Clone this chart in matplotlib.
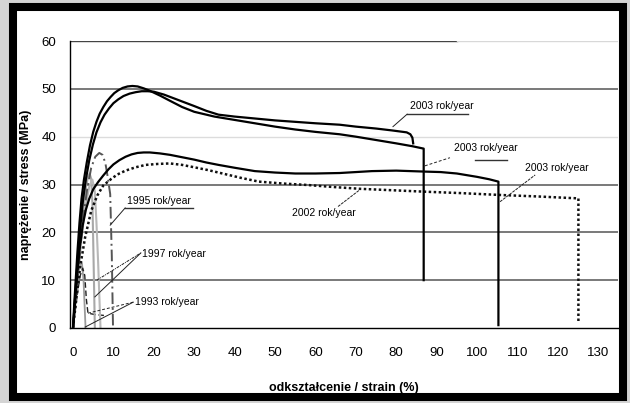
import numpy as np
import matplotlib
matplotlib.use("Agg")
import matplotlib.pyplot as plt
from matplotlib.patches import Rectangle

plt.rcParams['font.family'] = ['Liberation Sans', 'DejaVu Sans']

# stress-strain curves, strain (%) / stress (MPa)
strain_2003a = [0, 0.3, 0.7, 1.1, 1.6, 2.1, 2.7, 3.4, 4.2, 5.0, 5.8, 6.6, 7.5, 8.4, 9.3, 10.2, 11.2, 12.3, 13.5, 14.7,
                16, 17.5, 19, 21.5, 24, 27, 30, 35, 40, 45, 50, 55, 60, 66, 70, 75, 80, 84, 86.8, 86.8]
stress_2003a = [0, 5, 10.5, 16, 22, 27.0, 31.0, 34.6, 38.2, 41.0, 43.1, 44.8, 46.2, 47.4, 48.3, 49.1, 49.7, 50.2, 50.5, 50.6,
                50.5, 50.1, 49.6, 48.6, 47.5, 46.2, 45.2, 44.2, 43.5, 42.8, 42.1, 41.5, 41.0, 40.5, 40.0, 39.3, 38.6, 38.0, 37.5, 10]

strain_2003b = [0, 0.4, 0.8, 1.3, 1.9, 2.5, 3.2, 4.0, 4.9, 5.8, 6.8, 7.8, 8.9, 10, 11.2, 12.5, 14, 15.5, 17, 18.5,
                20, 22.5, 25, 27.5, 30, 33, 36, 40, 45, 50, 55, 60, 66, 70, 75, 79, 82.6, 83.5, 84.0, 84.2]
stress_2003b = [0, 5, 10, 16, 22, 27, 31.2, 35, 38.3, 40.9, 43.0, 44.6, 45.9, 47.0, 47.8, 48.5, 49.0, 49.3, 49.5, 49.5,
                49.4, 48.8, 48.0, 47.2, 46.4, 45.4, 44.6, 44.2, 43.8, 43.4, 43.1, 42.8, 42.5, 42.1, 41.7, 41.3, 40.9, 40.5, 39.8, 38.6]

strain_2003c = [0, 0.5, 1.0, 1.7, 2.4, 3.2, 4.0, 5.0, 6.2, 7.5, 8.8, 10, 11.5, 13, 14.5, 16, 17.5, 19, 21.5, 24, 27, 30, 33,
                36, 40, 45, 50, 55, 60, 66, 70, 74, 80, 87, 91, 95, 100, 103, 105.3, 105.3]
stress_2003c = [0, 5.5, 11, 17, 21.5, 24.8, 27.0, 29.0, 30.5, 31.9, 33.2, 34.2, 35.1, 35.8, 36.3, 36.6, 36.7, 36.7, 36.5, 36.2,
                35.7, 35.2, 34.6, 34.1, 33.5, 32.8, 32.5, 32.3, 32.3, 32.4, 32.6, 32.8, 32.9, 32.7, 32.6, 32.3, 31.6, 31.1,
                30.6, 0.6]

strain_2002 = [0, 0.8, 1.8, 3.0, 4.5, 6.0, 7.5, 9.5, 11, 13, 15.5, 18, 21, 24, 27, 30, 33.5, 37, 41.5, 46,
               52, 58, 64, 71, 79, 87, 96, 106, 115, 120, 125.1, 125.1]
stress_2002 = [0, 6, 13, 19, 24.5, 27.7, 29.8, 31.2, 32.1, 32.9, 33.6, 34.1, 34.3, 34.4, 34.1, 33.6, 33.0, 32.3, 31.4, 30.6,
               30.2, 29.9, 29.5, 29.1, 28.8, 28.5, 28.2, 27.8, 27.5, 27.3, 27.1, 1]

strain_1995 = [0, 0.5, 1.5, 2.5, 3.5, 4.5, 5.5, 6.5, 7.3, 8.0, 8.6, 9.2, 9.6, 9.9]
stress_1995 = [0, 5, 14, 23, 29, 33.5, 35.8, 36.6, 36.2, 34.5, 31.5, 28, 15, 0]

strain_1997a = [0, 0.8, 1.6, 2.4, 3.2, 3.7, 4.1, 4.5, 4.8, 5.0, 5.2, 5.4]
stress_1997a = [0, 8, 17, 24, 29.5, 31.6, 32.3, 31.2, 26, 18, 9, 0]
strain_1997b = [0, 1.0, 2.0, 3.0, 4.0, 4.8, 5.4, 5.8, 6.2, 6.5, 6.8]
stress_1997b = [0, 9, 18, 25, 29.5, 31, 28.5, 22, 14, 7, 0]

strain_1993a = [0, 0.5, 1.0, 1.6, 2.2, 2.6, 2.9, 3.1]
stress_1993a = [0, 5, 10, 13, 13.6, 10, 4, 0]
strain_1993b = [0, 0.6, 1.2, 1.8, 2.4, 2.9, 3.3, 3.7, 5.5, 8.0]
stress_1993b = [0, 4, 8, 11, 12.5, 11, 6, 3.1, 2.8, 2.6]

x_ticks = list(range(0, 131, 10))
y_ticks = list(range(0, 61, 10))

fig = plt.figure(figsize=(6.3, 4.03), dpi=100, facecolor='#d4d4d4')
# white panel with thick black frame, kept behind the axes
frame = Rectangle((13, 6), 610, 390, transform=None, facecolor='white',
                  edgecolor='black', linewidth=5.8, zorder=-5)
fig.add_artist(frame)

ax = fig.add_axes([70 / 630, (403 - 328) / 403, (618 - 70) / 630, (328 - 41) / 403])
ax.set_zorder(2)
ax.set_facecolor('white')
ax.set_xlim(-0.75, 134.9)
ax.set_ylim(0, 60)

# horizontal grid
for v in y_ticks[1:]:
    if v == 40:
        ax.axhline(v, color='#dcdcdc', lw=1.0, zorder=1)
    elif v == 60:
        ax.plot([-0.75, 95], [v, v], color='#444444', lw=1.0, zorder=1)
        ax.plot([95, 134.9], [v, v], color='#d8d8d8', lw=1.0, zorder=1)
    else:
        ax.axhline(v, color='#555555', lw=1.1, zorder=1)

ax.plot(strain_1993a, stress_1993a, color='#9a9a9a', lw=1.3, zorder=2)
ax.plot(strain_1993b, stress_1993b, color='#222222', lw=1.0, ls=(0, (4, 2)), zorder=2)
ax.plot(strain_1997a, stress_1997a, color='#a8a8a8', lw=1.5, zorder=2)
ax.plot(strain_1997b, stress_1997b, color='#b8b8b8', lw=1.5, zorder=2)
ax.plot(strain_1995, stress_1995, color='#555555', lw=1.4, ls=(0, (6, 2, 1, 2)), zorder=3)
ax.plot(strain_2002, stress_2002, color='#111111', lw=1.8, ls=(0, (1, 1)), zorder=3)
ax.plot(strain_2003c, stress_2003c, color='black', lw=1.6, zorder=4)
ax.plot(strain_2003b, stress_2003b, color='black', lw=1.6, zorder=4)
ax.plot(strain_2003a, stress_2003a, color='black', lw=1.6, zorder=4)

for s in ['top', 'right']:
    ax.spines[s].set_visible(False)
for s in ['left', 'bottom']:
    ax.spines[s].set_color('black')
    ax.spines[s].set_linewidth(1.0)

ax.set_xticks(x_ticks)
ax.set_yticks(y_ticks)
ax.tick_params(axis='x', length=0, pad=14, labelsize=9.5)
ax.tick_params(axis='y', length=0, pad=10, labelsize=9.5)
ax.set_xlabel('odkształcenie / strain (%)', fontsize=9, fontweight='bold', labelpad=16)
ax.set_ylabel('naprężenie / stress (MPa)', fontsize=9, fontweight='bold', labelpad=7)

lab = dict(fontsize=7.5, ha='center', va='center', zorder=6)
lead = dict(color='#222222', lw=0.7, zorder=5)

# 2003 labels
ax.text(91.3, 46.4, '2003 rok/year', **lab)
ax.plot([82.7, 97.8], [44.7, 44.7], color='#333333', lw=1.0, zorder=5)
ax.plot([79.2, 82.7], [42.1, 44.7], **lead)

ax.text(102.2, 37.7, '2003 rok/year', **lab)
ax.plot([99.5, 107.4], [35.1, 35.1], color='#333333', lw=1.0, zorder=5)
ax.plot([87.1, 93.3], [33.9, 35.6], ls=(0, (3, 2)), **lead)

ax.text(119.8, 33.5, '2003 rok/year', **lab)
ax.plot([105.7, 114.4], [26.4, 32.0], ls=(0, (3, 1)), **lead)

# 2002 label
ax.text(62.1, 24.1, '2002 rok/year', **lab)
ax.plot([65.6, 71.0], [25.4, 28.9], ls=(0, (3, 1)), **lead)

# 1995 label
ax.text(21.2, 26.6, '1995 rok/year', **lab)
ax.plot([12.9, 29.7], [25.1, 25.1], color='#333333', lw=1.0, zorder=5)
ax.plot([9.2, 12.9], [21.5, 25.1], **lead)

# 1997 label
ax.text(25.0, 15.5, '1997 rok/year', **lab)
ax.plot([5.9, 16.8], [10.0, 15.7], ls=(0, (3, 1, 1, 1)), **lead)
ax.plot([5.4, 16.8], [6.5, 15.7], **lead)

# 1993 label
ax.text(23.3, 5.5, '1993 rok/year', **lab)
ax.plot([3.7, 14.9], [3.1, 5.4], ls=(0, (3, 2)), **lead)
ax.plot([3.0, 14.9], [0.2, 5.4], **lead)

fig.savefig('out.png', dpi=100, facecolor=fig.get_facecolor())
